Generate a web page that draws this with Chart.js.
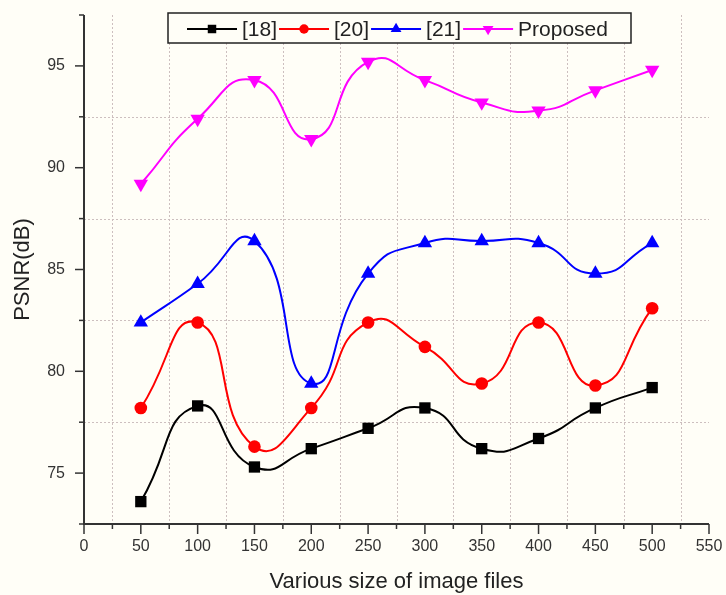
<!DOCTYPE html>
<html>
<head>
<meta charset="utf-8">
<script src="https://cdn.jsdelivr.net/npm/chart.js@4/dist/chart.umd.min.js"></script>
<style>
html,body{margin:0;padding:0;background:#fffef7;}
canvas{display:block;}
</style>
</head>
<body>
<canvas id="c" width="726" height="595"></canvas>
<script>
// ---- data ----
const fileSizes = [50, 100, 150, 200, 250, 300, 350, 400, 450, 500];
const ref18    = [73.6, 78.3, 75.3, 76.2, 77.2, 78.2, 76.2, 76.7, 78.2, 79.2];
const ref20    = [78.2, 82.4, 76.3, 78.2, 82.4, 81.2, 79.4, 82.4, 79.3, 83.1];
const ref21    = [82.4, 84.3, 86.4, 79.4, 84.8, 86.3, 86.4, 86.3, 84.8, 86.3];
const proposed = [89.2, 92.4, 94.3, 91.4, 95.2, 94.3, 93.2, 92.8, 93.8, 94.8];
const seriesNames = ['[18]', '[20]', '[21]', 'Proposed'];
const xTickValues = [0, 50, 100, 150, 200, 250, 300, 350, 400, 450, 500, 550];
const xMinorValues = [25, 75, 125, 175, 225, 275, 325, 375, 425, 475, 525];
const yTickValues = [75, 80, 85, 90, 95];
const yMinorValues = [72.5, 77.5, 82.5, 87.5, 92.5, 97.5];
const xTitle = 'Various size of image files';
const yTitle = 'PSNR(dB)';

const FONT = "'Liberation Sans', Arial, sans-serif";
const BG = '#fffef7';
const AXIS = '#333333';

function pts(ys) { return fileSizes.map((x, i) => ({x: x, y: ys[i]})); }

const styles = [
  {color: '#000000', pointStyle: 'rect', radius: 8, rot: 0},
  {color: '#ff0000', pointStyle: 'circle', radius: 6.3, rot: 0},
  {color: '#0000ff', pointStyle: 'triangle', radius: 8.3, rot: 0},
  {color: '#ff00ff', pointStyle: 'triangle', radius: 8.3, rot: 180}
];
const allSeries = [ref18, ref20, ref21, proposed];

const datasets = allSeries.map((s, i) => ({
  label: seriesNames[i],
  data: pts(s),
  borderColor: styles[i].color,
  backgroundColor: styles[i].color,
  borderWidth: 2,
  pointStyle: styles[i].pointStyle,
  pointRotation: styles[i].rot,
  pointRadius: styles[i].radius,
  pointBorderWidth: 0,
  tension: 0.55,
  fill: false
}));

function drawMarker(ctx, style, x, y, r, color) {
  ctx.save();
  ctx.fillStyle = color;
  ctx.beginPath();
  if (style === 'rect') {
    const s = Math.SQRT1_2 * r;
    ctx.rect(x - s, y - s, 2 * s, 2 * s);
  } else if (style === 'circle') {
    ctx.arc(x, y, r, 0, Math.PI * 2);
  } else {
    const dir = style === 'down' ? -1 : 1;
    for (let k = 0; k < 3; k++) {
      const a = k * 2 * Math.PI / 3;
      const px = x + Math.sin(a) * r;
      const py = y - dir * Math.cos(a) * r;
      if (k === 0) ctx.moveTo(px, py); else ctx.lineTo(px, py);
    }
    ctx.closePath();
  }
  ctx.fill();
  ctx.restore();
}

const framePlugin = {
  id: 'frame',
  beforeDraw(chart) {
    const ctx = chart.ctx;
    ctx.save();
    ctx.fillStyle = BG;
    ctx.fillRect(0, 0, chart.width, chart.height);
    ctx.restore();
  },
  beforeDatasetsDraw(chart) {
    const ctx = chart.ctx;
    const xs = chart.scales.x, ys = chart.scales.y;
    const a = chart.chartArea;
    ctx.save();
    // dotted grid at minor positions
    ctx.strokeStyle = '#cdbfbf';
    ctx.lineWidth = 1;
    ctx.setLineDash([2, 2]);
    xMinorValues.forEach(v => {
      const px = Math.round(xs.getPixelForValue(v)) + 0.5;
      ctx.beginPath(); ctx.moveTo(px, a.top); ctx.lineTo(px, a.bottom); ctx.stroke();
    });
    yMinorValues.forEach(v => {
      if (v <= ys.min || v >= ys.max) return;
      const py = Math.round(ys.getPixelForValue(v)) + 0.5;
      ctx.beginPath(); ctx.moveTo(a.left, py); ctx.lineTo(a.right, py); ctx.stroke();
    });
    ctx.setLineDash([]);
    // axes
    ctx.strokeStyle = AXIS;
    ctx.lineWidth = 2;
    ctx.beginPath();
    ctx.moveTo(a.left, a.top); ctx.lineTo(a.left, a.bottom); ctx.lineTo(a.right, a.bottom);
    ctx.stroke();
    ctx.lineWidth = 1.5;
    xTickValues.forEach(v => {
      const px = xs.getPixelForValue(v);
      ctx.beginPath(); ctx.moveTo(px, a.bottom); ctx.lineTo(px, a.bottom + 10); ctx.stroke();
    });
    xMinorValues.forEach(v => {
      const px = xs.getPixelForValue(v);
      ctx.beginPath(); ctx.moveTo(px, a.bottom); ctx.lineTo(px, a.bottom + 5); ctx.stroke();
    });
    yTickValues.forEach(v => {
      const py = ys.getPixelForValue(v);
      ctx.beginPath(); ctx.moveTo(a.left, py); ctx.lineTo(a.left - 9, py); ctx.stroke();
    });
    yMinorValues.forEach(v => {
      const py = ys.getPixelForValue(v);
      ctx.beginPath(); ctx.moveTo(a.left, py); ctx.lineTo(a.left - 5, py); ctx.stroke();
    });
    ctx.restore();
  },
  afterDraw(chart) {
    const ctx = chart.ctx;
    ctx.save();
    const boxL = 168, boxT = 13, boxR = 631, boxB = 43;
    ctx.fillStyle = BG;
    ctx.fillRect(boxL, boxT, boxR - boxL, boxB - boxT);
    ctx.strokeStyle = '#222';
    ctx.lineWidth = 1.5;
    ctx.strokeRect(boxL, boxT, boxR - boxL, boxB - boxT);
    ctx.font = '21px ' + FONT;
    ctx.textBaseline = 'middle';
    ctx.textAlign = 'left';
    const cy = 29;
    let x = 187;
    chart.data.datasets.forEach((ds, i) => {
      ctx.strokeStyle = ds.borderColor;
      ctx.lineWidth = 2;
      ctx.beginPath(); ctx.moveTo(x, cy); ctx.lineTo(x + 50, cy); ctx.stroke();
      const st = styles[i];
      const ms = st.pointStyle === 'triangle' ? (st.rot === 180 ? 'down' : 'up') : st.pointStyle;
      drawMarker(ctx, ms, x + 25, cy, st.radius * 0.75, ds.borderColor);
      ctx.fillStyle = '#222';
      ctx.fillText(ds.label, x + 55, cy + 1);
      x = x + 55 + ctx.measureText(ds.label).width + 2;
    });
    ctx.restore();
  }
};

new Chart(document.getElementById('c'), {
  type: 'line',
  data: {datasets: datasets},
  plugins: [framePlugin],
  options: {
    responsive: false,
    animation: false,
    devicePixelRatio: 1,
    layout: {padding: {top: 15, right: 17, left: 0, bottom: 0}},
    plugins: {legend: {display: false}, tooltip: {enabled: false}},
    scales: {
      x: {
        type: 'linear', min: 0, max: 550,
        afterBuildTicks: s => { s.ticks = xTickValues.map(v => ({value: v})); },
        afterFit: s => { s.height = 71; s.paddingLeft = 0; s.paddingRight = 0; },
        grid: {display: false, drawTicks: false},
        border: {display: false},
        ticks: {padding: 13, autoSkip: false, maxRotation: 0, color: '#333', font: {family: FONT, size: 16}},
        title: {display: true, text: xTitle, color: '#222', font: {family: FONT, size: 22}, padding: {top: 0, bottom: 0}}
      },
      y: {
        type: 'linear', min: 72.5, max: 97.5,
        afterBuildTicks: s => { s.ticks = yTickValues.map(v => ({value: v})); },
        afterFit: s => { s.width = 84; s.paddingTop = 0; s.paddingBottom = 0; },
        grid: {display: false, drawTicks: false},
        border: {display: false},
        ticks: {padding: 19, color: '#333', font: {family: FONT, size: 16}},
        title: {display: true, text: yTitle, color: '#222', font: {family: FONT, size: 22}, padding: {top: 10, bottom: 0}}
      }
    }
  }
});
</script>
</body>
</html>
